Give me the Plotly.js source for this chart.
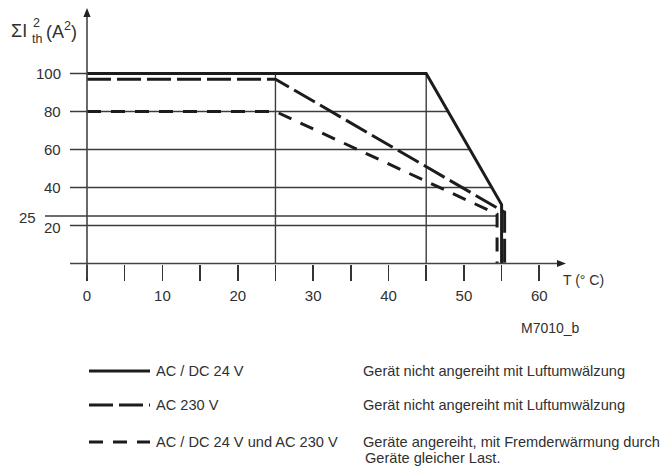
<!DOCTYPE html>
<html>
<head>
<meta charset="utf-8">
<script src="https://cdn.plot.ly/plotly-3.0.1.min.js"></script>
<style>
  html, body { margin: 0; padding: 0; background: #ffffff; }
  #chart { width: 665px; height: 474px; }
</style>
</head>
<body>
<div id="chart"></div>
<script>
// ---- data ----
const tempSolid = [0, 45, 55.0, 55.0];     // AC / DC 24 V
const i2Solid   = [100, 100, 31, 0];
const temp230   = [0, 25, 55.4, 55.4];     // AC 230 V
const i2_230    = [97, 97, 27, 0];
const tempRow   = [0, 25, 54.4, 54.4];     // AC / DC 24 V und AC 230 V (angereiht)
const i2Row     = [80, 80, 26, 0];

const gridYValues   = [20, 25, 40, 60, 80, 100];
const gridXValues   = [25, 45];
const yTickLabels   = ['100', '80', '60', '40', '20'];
const yTickValues   = [100, 80, 60, 40, 20];
const extraYLabel   = '25';
const extraYValue   = 25;
const xTickValues   = [0, 10, 20, 30, 40, 50, 60];
const xTickLabels   = ['0', '10', '20', '30', '40', '50', '60'];
const xMinorValues  = [5, 15, 25, 35, 45, 55];

const seriesNames = ['AC / DC 24 V', 'AC 230 V', 'AC / DC 24 V und AC 230 V'];
const seriesNotes = [
  ['Gerät nicht angereiht mit Luftumwälzung'],
  ['Gerät nicht angereiht mit Luftumwälzung'],
  ['Geräte angereiht, mit Fremderwärmung durch', 'Geräte gleicher Last.']
];
const xAxisTitle = 'T (° C)';
const figureCode = 'M7010_b';

// ---- geometry / style ----
const W = 665, H = 474;
const X0PX = 87, PXPERX = 7.538;     // x=0 at 87px, 7.538 px per °C
const Y0PX = 263.5, PXPERY = 1.9;    // y=0 at 263.5px, 1.9 px per A²
const xRange = [-X0PX / PXPERX, (W - X0PX) / PXPERX];
const yRange = [-(H - Y0PX) / PXPERY, Y0PX / PXPERY];
const FONT = '"Liberation Sans", Arial, Helvetica, sans-serif';
const TXT = '#303030';
const INK = '#1c1c1c';
const GRID = '#3c3c3c';
const dashes = ['solid', '24px,6px', '14px,10px'];

const px = p => p / W;
const py = p => 1 - p / H;

function crossX(xs, ys, yv) {
  for (let i = 0; i < xs.length - 1; i++) {
    if (ys[i] === ys[i + 1]) continue;
    if ((ys[i] - yv) * (ys[i + 1] - yv) <= 0) {
      return xs[i] + (yv - ys[i]) * (xs[i + 1] - xs[i]) / (ys[i + 1] - ys[i]);
    }
  }
  return xs[xs.length - 1];
}

const shortVertX = tempRow[tempRow.length - 1];
const gridLeft = (-17 / PXPERX);
const gridLeft25 = (-42 / PXPERX);

const shapes = [];
gridYValues.forEach(g => {
  const xe = Math.min(crossX(tempSolid, i2Solid, g), shortVertX);
  shapes.push({type: 'line', xref: 'x', yref: 'y', layer: 'below',
    x0: g === extraYValue ? gridLeft25 : gridLeft, x1: xe, y0: g, y1: g,
    line: {color: GRID, width: 1.4}});
});
gridXValues.forEach(g => {
  shapes.push({type: 'line', xref: 'x', yref: 'y', layer: 'below',
    x0: g, x1: g, y0: 0, y1: 100, line: {color: GRID, width: 1.4}});
});
// axes
const yTip = (Y0PX - 8) / PXPERY;
const xTip = (566 - X0PX) / PXPERX;
shapes.push({type: 'line', xref: 'x', yref: 'y', x0: 0, x1: 0, y0: -14 / PXPERY, y1: yTip - 4 / PXPERY,
  line: {color: '#444', width: 1.6}});
shapes.push({type: 'line', xref: 'x', yref: 'y', x0: gridLeft, x1: xTip - 4 / PXPERX, y0: 0, y1: 0,
  line: {color: '#444', width: 1.6}});
shapes.push({type: 'path', xref: 'x', yref: 'y', xsizemode: 'pixel', ysizemode: 'pixel',
  xanchor: 0, yanchor: yTip, path: 'M0,0 L-3.6,-9 L3.6,-9 Z',
  fillcolor: '#222', line: {width: 0}});
shapes.push({type: 'path', xref: 'x', yref: 'y', xsizemode: 'pixel', ysizemode: 'pixel',
  xanchor: xTip, yanchor: 0, path: 'M0,0 L-9,3.6 L-9,-3.6 Z',
  fillcolor: '#222', line: {width: 0}});

// legend sample lines
const legendRowY = [371, 405, 442];
legendRowY.forEach((yy, i) => {
  shapes.push({type: 'line', xref: 'paper', yref: 'paper',
    x0: px(89), x1: px(150), y0: py(yy), y1: py(yy),
    line: {color: INK, width: 3, dash: dashes[i]}});
});

const annotations = [];
const baseFont = {family: FONT, size: 14.6, color: TXT};
const tickFont = {family: FONT, size: 15, color: TXT};
yTickValues.forEach((v, i) => {
  annotations.push({xref: 'x', yref: 'y', x: -24 / PXPERX, y: v, text: yTickLabels[i],
    xanchor: 'right', yanchor: 'middle', showarrow: false, font: tickFont,
    yshift: v === 20 ? -2 : 0});
});
annotations.push({xref: 'x', yref: 'y', x: -49 / PXPERX, y: extraYValue, text: extraYLabel,
  xanchor: 'right', yanchor: 'middle', showarrow: false, font: tickFont, yshift: -1});

// y-axis title pieces
const titleFont = {family: FONT, size: 18, color: TXT};
const smallFont = {family: FONT, size: 12.5, color: TXT};
annotations.push({xref: 'paper', yref: 'paper', x: px(9), y: py(31), text: 'ΣI',
  xanchor: 'left', yanchor: 'middle', showarrow: false, font: titleFont});
annotations.push({xref: 'paper', yref: 'paper', x: px(31), y: py(23), text: '2',
  xanchor: 'left', yanchor: 'middle', showarrow: false, font: smallFont});
annotations.push({xref: 'paper', yref: 'paper', x: px(30), y: py(39), text: 'th',
  xanchor: 'left', yanchor: 'middle', showarrow: false, font: smallFont});
annotations.push({xref: 'paper', yref: 'paper', x: px(44), y: py(30), text: '(A<sup>2</sup>)',
  xanchor: 'left', yanchor: 'middle', showarrow: false, font: titleFont});

annotations.push({xref: 'paper', yref: 'paper', x: px(561), y: py(280), text: xAxisTitle,
  xanchor: 'left', yanchor: 'middle', showarrow: false, font: {family: FONT, size: 14, color: TXT}});
annotations.push({xref: 'paper', yref: 'paper', x: px(550), y: py(328), text: figureCode,
  xanchor: 'center', yanchor: 'middle', showarrow: false, font: {family: FONT, size: 14, color: TXT}});

legendRowY.forEach((yy, i) => {
  annotations.push({xref: 'paper', yref: 'paper', x: px(154), y: py(yy), text: seriesNames[i],
    xanchor: 'left', yanchor: 'middle', showarrow: false, font: baseFont});
  seriesNotes[i].forEach((t, j) => {
    annotations.push({xref: 'paper', yref: 'paper', x: px(j === 0 ? 361 : 363), y: py(yy + j * 16), text: t,
      xanchor: 'left', yanchor: 'middle', showarrow: false, font: baseFont});
  });
});

const traces = [
  {x: tempSolid, y: i2Solid, name: seriesNames[0]},
  {x: temp230, y: i2_230, name: seriesNames[1]},
  {x: tempRow, y: i2Row, name: seriesNames[2]}
].map((t, i) => Object.assign(t, {
  type: 'scatter', mode: 'lines', hoverinfo: 'skip',
  line: {color: INK, width: 3, dash: dashes[i]}
}));

const layout = {
  width: W, height: H,
  margin: {l: 0, r: 0, t: 0, b: 0, pad: 0},
  paper_bgcolor: '#ffffff', plot_bgcolor: '#ffffff',
  showlegend: false,
  xaxis: {
    range: xRange, domain: [0, 1], anchor: 'free', position: (H - Y0PX) / H,
    showline: false, showgrid: false, zeroline: false,
    tickmode: 'array', tickvals: xTickValues, ticktext: xTickLabels,
    ticks: 'outside', ticklen: 16, tickwidth: 1.6, tickcolor: '#333',
    minor: {tickmode: 'array', tickvals: xMinorValues, ticks: 'outside', ticklen: 16, tickwidth: 1.6,
            tickcolor: '#333', showgrid: false},
    ticklabelstandoff: 2,
    tickfont: tickFont, fixedrange: true
  },
  yaxis: {
    range: yRange, domain: [0, 1],
    showline: false, showgrid: false, zeroline: false, showticklabels: false, ticks: '',
    fixedrange: true
  },
  shapes: shapes,
  annotations: annotations
};

Plotly.newPlot('chart', traces, layout, {displayModeBar: false, staticPlot: true});
</script>
</body>
</html>
